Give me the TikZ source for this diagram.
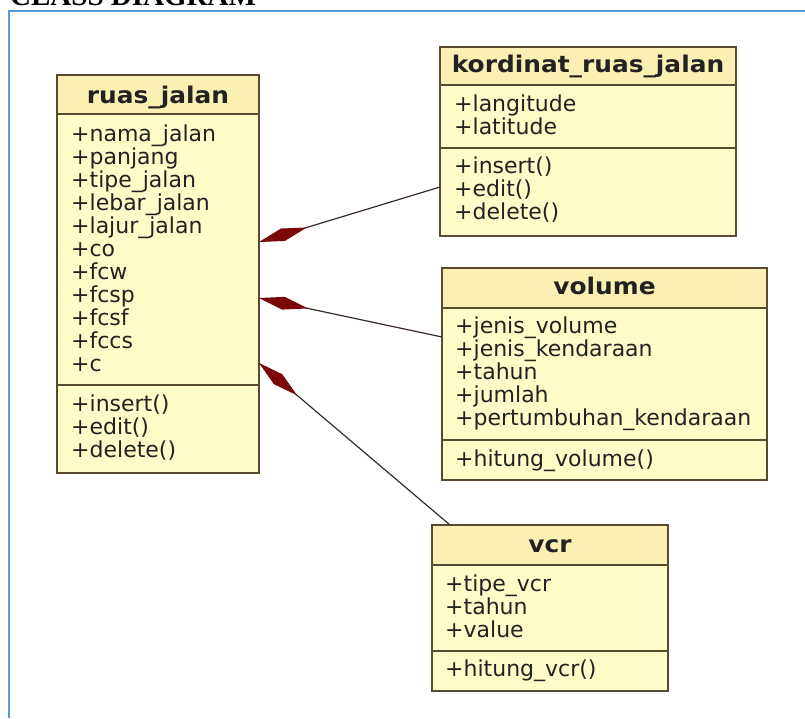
\documentclass[tikz,border=0pt]{standalone}
\usepackage{fontspec}
\setmainfont{DejaVu Sans}
\newfontfamily\titlefont[FakeStretch=1.08]{DejaVu Sans}
\newfontfamily\docfont{Liberation Serif}
\usetikzlibrary{arrows.meta}
\definecolor{boxfill}{HTML}{FFFCC9}
\definecolor{headfill}{HTML}{FAF0B4}
\definecolor{boxline}{HTML}{5A4A30}
\definecolor{diam}{HTML}{7A0808}
\definecolor{linecol}{HTML}{3A2A2A}
\definecolor{frameblue}{HTML}{5B9BD5}
\definecolor{txt}{HTML}{222222}
\newcommand\umlbox[7]{% name, x1, y1, x2, y2, sep1, sep2
  \node[classbox, minimum width={#4-#2}, minimum height={#5-#3}] (#1) at (#2,#3) {};
  \fill[headfill] (#2+1,#3+1) rectangle (#4-1,#6);
  \draw[sepline] (#2,#6) -- (#4,#6);
  \draw[sepline] (#2,#7) -- (#4,#7);
}
\begin{document}
\begin{tikzpicture}[x=1pt,y=-1pt,
  classbox/.style={draw=boxline, line width=2pt, fill=boxfill, anchor=north west, inner sep=0pt, outer sep=0pt},
  sepline/.style={boxline, line width=1.8pt},
  attr/.style={anchor=base west, inner sep=0pt, font=\fontsize{22}{23}\selectfont, text=txt},
  ctitle/.style={anchor=base, inner sep=0pt, font=\titlefont\bfseries\fontsize{23}{24}\selectfont, text=txt},
  comp/.style={draw=linecol, line width=1.2pt, {Diamond[length=50pt,width=13pt,fill=diam,color=diam]}-}]
\path[use as bounding box] (0,0) rectangle (805,718);
\clip (0,0) rectangle (805,718);

% heading and frame
\node[anchor=base west, inner sep=0pt, font=\docfont\bfseries\fontsize{29}{30}\selectfont] (hd) at (10,5.5) {CLASS DIAGRAM};
\draw[frameblue, line width=2.5pt] (9,718) -- (9,11) -- (805,11);

% ruas_jalan
\umlbox{ruas}{57}{75}{259}{473}{114}{385}
\node[ctitle] (ruasT) at (158,103) {ruas\_jalan};
\foreach \t [count=\i from 0] in {+nama\_jalan,+panjang,+tipe\_jalan,+lebar\_jalan,+lajur\_jalan,+co,+fcw,+fcsp,+fcsf,+fccs,+c}
  \node[attr] (ra\i) at (71,{141+23*\i}) {\t};
\foreach \t [count=\i from 0] in {+insert(),+edit(),+delete()}
  \node[attr] (rm\i) at (71,{411+23*\i}) {\t};

% kordinat_ruas_jalan
\umlbox{kord}{440}{47}{736}{236}{85}{148}
\node[ctitle] (kordT) at (588,72) {kordinat\_ruas\_jalan};
\foreach \t [count=\i from 0] in {+langitude,+latitude}
  \node[attr] (ka\i) at (454,{111+23*\i}) {\t};
\foreach \t [count=\i from 0] in {+insert(),+edit(),+delete()}
  \node[attr] (km\i) at (454,{173+23*\i}) {\t};

% volume
\umlbox{vol}{442}{268}{767}{480}{308}{440}
\node[ctitle] (volT) at (604.5,294) {volume};
\foreach \t [count=\i from 0] in {+jenis\_volume,+jenis\_kendaraan,+tahun,+jumlah,+pertumbuhan\_kendaraan}
  \node[attr] (va\i) at (455,{333+23*\i}) {\t};
\node[attr] (vm0) at (455,466) {+hitung\_volume()};

% vcr
\umlbox{vcr}{432}{525}{668}{691}{565}{651}
\node[ctitle] (vcrT) at (550,552) {vcr};
\foreach \t [count=\i from 0] in {+tipe\_vcr,+tahun,+value}
  \node[attr] (ca\i) at (445,{591+23*\i}) {\t};
\node[attr] (cm0) at (445,676) {+hitung\_vcr()};

% compositions
\draw[comp] ([yshift=-167pt]ruas.north east) -- ([yshift=-140pt]kord.north west);
\draw[comp] ([yshift=-223pt]ruas.north east) -- ([yshift=-69pt]vol.north west);
\draw[comp] ([yshift=-288pt]ruas.north east) -- ([xshift=18pt]vcr.north west);
\end{tikzpicture}
\end{document}
